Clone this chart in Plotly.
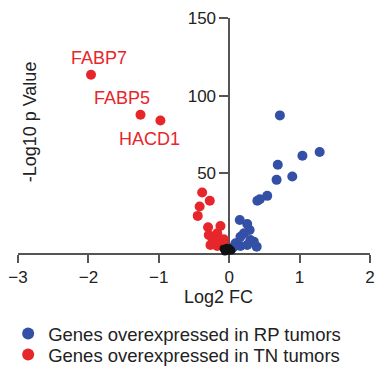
import plotly.graph_objects as go

# Genes overexpressed in RP tumors (blue)
rp_x = [0.72, 1.285, 1.04, 0.69, 0.896, 0.673, 0.54, 0.435, 0.40,
        0.15, 0.256, 0.29, 0.21, 0.16, 0.35, 0.39, 0.09, 0.065, 0.16, 0.256, 0.30, 0.04]
rp_y = [87.3, 63.7, 61.3, 55.5, 47.9, 45.8, 35.5, 33.3, 32.3,
        20.0, 17.4, 13.5, 11.4, 9.2, 6.0, 2.8, 5.0, 2.8, 3.2, 3.9, 7.0, 1.7]

# Genes overexpressed in TN tumors (red)
tn_x = [-1.963, -1.26, -0.977, -0.384, -0.276, -0.42, -0.447, -0.124, -0.30, -0.29,
        -0.17, -0.24, -0.077, -0.266, -0.17, -0.10, -0.05, -0.195]
tn_y = [113.5, 87.7, 84.0, 37.6, 32.3, 28.6, 22.6, 16.1, 15.3, 10.3,
        11.4, 8.2, 7.5, 3.9, 3.2, 5.0, 2.8, 6.0]

# Non-significant genes (black)
ns_x = [-0.08, -0.05, -0.03, -0.01, 0.01, 0.03, -0.06, 0.0]
ns_y = [1.5, 0.5, 2.0, 0.2, 1.0, 0.3, -0.3, 1.8]

labels = ["FABP7", "FABP5", "HACD1"]
label_x = [-1.963, -1.26, -0.977]
label_y = [113.5, 87.7, 84.0]
label_dx = [8, -19, -11]
label_dy = [17, 17, -18]

x_ticks = [-3, -2, -1, 0, 1, 2]
y_ticks = [50, 100, 150]

BLUE = "#3450a6"
RED = "#e6262a"
AX = "#555555"
FONT = "Liberation Sans, Arial, sans-serif"

fig = go.Figure()
fig.add_trace(go.Scatter(x=tn_x, y=tn_y, mode="markers", name="Genes overexpressed in TN tumors",
                         marker=dict(color=RED, size=10), cliponaxis=False, legend="legend2"))
fig.add_trace(go.Scatter(x=rp_x, y=rp_y, mode="markers", name="Genes overexpressed in RP tumors",
                         marker=dict(color=BLUE, size=10), cliponaxis=False, legend="legend"))
fig.add_trace(go.Scatter(x=ns_x, y=ns_y, mode="markers", showlegend=False,
                         marker=dict(color="#111111", size=8), cliponaxis=False))

for t, x, y, dx, dy in zip(labels, label_x, label_y, label_dx, label_dy):
    fig.add_annotation(x=x, y=y, text=t, showarrow=False, xshift=dx, yshift=dy,
                       font=dict(family=FONT, size=18, color=RED))

fig.add_annotation(x=-0.15, y=-0.187, xref="x", yref="paper", yanchor="middle", text="Log2 FC",
                   showarrow=False, font=dict(family=FONT, size=18, color="#222222"))
fig.add_annotation(x=0.034, y=0.56, xref="paper", yref="paper", xanchor="center", yanchor="middle",
                   text="-Log10 p Value", textangle=-90, showarrow=False,
                   font=dict(family=FONT, size=18, color="#222222"))

leg_common = dict(xanchor="left", yanchor="middle", bgcolor="rgba(0,0,0,0)",
                  font=dict(family=FONT, size=18.5, color="#222222"), itemsizing="constant")

fig.update_layout(
    width=383, height=376,
    margin=dict(l=18, r=13, t=18, b=123, autoexpand=False),
    plot_bgcolor="white", paper_bgcolor="white",
    font=dict(family=FONT, size=17, color="#222222"),
    xaxis=dict(range=[-3, 2], tickvals=x_ticks, showgrid=False, zeroline=False, automargin=False,
               showline=True, linecolor=AX, linewidth=1.5, ticks="outside", ticklen=8,
               tickwidth=1.5, tickcolor=AX, layer="below traces",
               tickfont=dict(family=FONT, size=17, color="#222222")),
    yaxis=dict(range=[-1.3, 150], tickvals=y_ticks, showgrid=False, zeroline=False, automargin=False,
               showline=True, linecolor=AX, linewidth=1.5, ticks="outside", ticklen=9,
               tickwidth=1.5, tickcolor=AX, anchor="free", position=0.6, layer="below traces",
               tickfont=dict(family=FONT, size=17, color="#222222")),
    legend=dict(x=-0.028, y=-(334 - 253) / 235, **leg_common),
    legend2=dict(x=-0.028, y=-(355 - 253) / 235, **leg_common),
)

fig.write_html("out.html", config={"displayModeBar": False},
               post_script="document.body.style.margin='0px';document.body.style.overflow='hidden';")
